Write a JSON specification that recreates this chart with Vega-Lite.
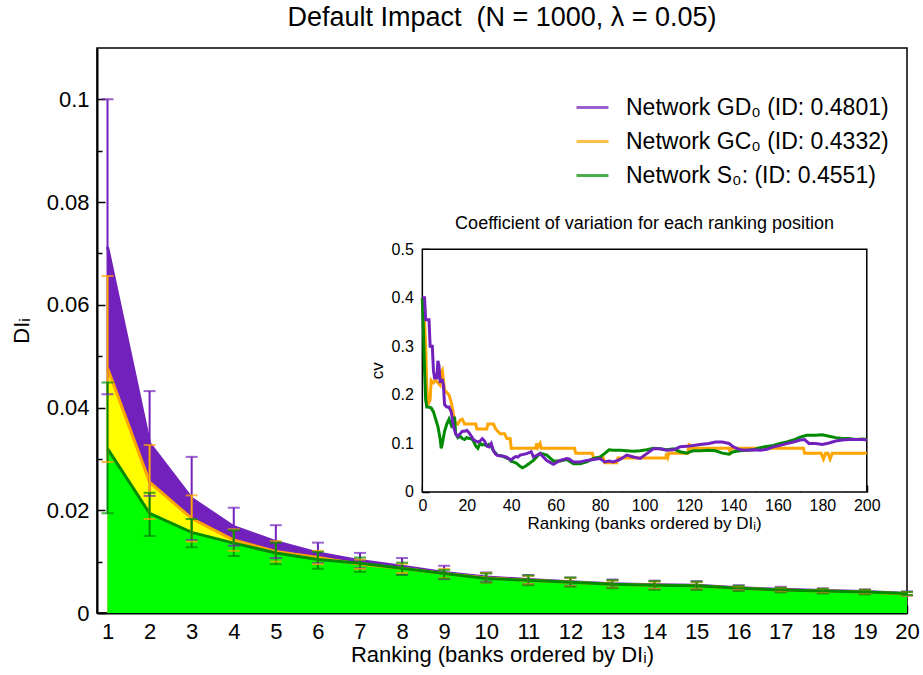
{
  "$schema": "https://vega.github.io/schema/vega-lite/v6.json",
  "background": "white",
  "autosize": "none",
  "width": 810,
  "height": 565,
  "padding": {"left": 97, "top": 48, "right": 16, "bottom": 62},
  "config": {
    "font": "Liberation Sans",
    "view": {"stroke": "black", "strokeWidth": 1.5},
    "axis": {"labelFont": "Liberation Sans", "titleFont": "Liberation Sans", "labelColor": "black", "titleColor": "black", "domainColor": "black", "tickColor": "black", "grid": false, "titleFontWeight": "normal", "labelFlush": false, "labelOverlap": false, "zindex": 1},
    "title": {"font": "Liberation Sans", "fontWeight": "normal", "color": "black"},
    "legend": {"labelFont": "Liberation Sans", "labelColor": "black"}
  },
  "title": {"text": "Default Impact\u00a0\u00a0(N = 1000, λ = 0.05)", "fontSize": 27, "offset": 16},
  "datasets": {
    "main": [
      {"rank": 1, "net": "GD", "mean": 0.0713, "lo": 0.0426, "hi": 0.1},
      {"rank": 2, "net": "GD", "mean": 0.033, "lo": 0.0228, "hi": 0.0432},
      {"rank": 3, "net": "GD", "mean": 0.0223, "lo": 0.0142, "hi": 0.0304},
      {"rank": 4, "net": "GD", "mean": 0.0168, "lo": 0.0131, "hi": 0.0205},
      {"rank": 5, "net": "GD", "mean": 0.0139, "lo": 0.0107, "hi": 0.0171},
      {"rank": 6, "net": "GD", "mean": 0.0117, "lo": 0.0097, "hi": 0.0137},
      {"rank": 7, "net": "GD", "mean": 0.0102, "lo": 0.0087, "hi": 0.0117},
      {"rank": 8, "net": "GD", "mean": 0.0091, "lo": 0.0075, "hi": 0.0107},
      {"rank": 9, "net": "GD", "mean": 0.0079, "lo": 0.0066, "hi": 0.0092},
      {"rank": 10, "net": "GD", "mean": 0.007, "lo": 0.0061, "hi": 0.0079},
      {"rank": 11, "net": "GD", "mean": 0.0065, "lo": 0.0056, "hi": 0.0074},
      {"rank": 12, "net": "GD", "mean": 0.0061, "lo": 0.0053, "hi": 0.0069},
      {"rank": 13, "net": "GD", "mean": 0.0057, "lo": 0.0049, "hi": 0.0065},
      {"rank": 14, "net": "GD", "mean": 0.0055, "lo": 0.0047, "hi": 0.0063},
      {"rank": 15, "net": "GD", "mean": 0.0054, "lo": 0.0046, "hi": 0.0062},
      {"rank": 16, "net": "GD", "mean": 0.0049, "lo": 0.0044, "hi": 0.0054},
      {"rank": 17, "net": "GD", "mean": 0.0046, "lo": 0.0041, "hi": 0.0051},
      {"rank": 18, "net": "GD", "mean": 0.0044, "lo": 0.0039, "hi": 0.0048},
      {"rank": 19, "net": "GD", "mean": 0.0042, "lo": 0.0037, "hi": 0.0046},
      {"rank": 20, "net": "GD", "mean": 0.0038, "lo": 0.0034, "hi": 0.0042},
      {"rank": 1, "net": "GC", "mean": 0.0477, "lo": 0.0294, "hi": 0.0656},
      {"rank": 2, "net": "GC", "mean": 0.0255, "lo": 0.0183, "hi": 0.0327},
      {"rank": 3, "net": "GC", "mean": 0.0184, "lo": 0.0139, "hi": 0.0229},
      {"rank": 4, "net": "GC", "mean": 0.0142, "lo": 0.0121, "hi": 0.0163},
      {"rank": 5, "net": "GC", "mean": 0.012, "lo": 0.01, "hi": 0.014},
      {"rank": 6, "net": "GC", "mean": 0.0108, "lo": 0.0095, "hi": 0.0121},
      {"rank": 7, "net": "GC", "mean": 0.0095, "lo": 0.0086, "hi": 0.0104},
      {"rank": 8, "net": "GC", "mean": 0.0087, "lo": 0.0078, "hi": 0.0096},
      {"rank": 9, "net": "GC", "mean": 0.0077, "lo": 0.0068, "hi": 0.0086},
      {"rank": 10, "net": "GC", "mean": 0.0068, "lo": 0.0059, "hi": 0.0078},
      {"rank": 11, "net": "GC", "mean": 0.0064, "lo": 0.0056, "hi": 0.0072},
      {"rank": 12, "net": "GC", "mean": 0.006, "lo": 0.0052, "hi": 0.0068},
      {"rank": 13, "net": "GC", "mean": 0.0056, "lo": 0.0049, "hi": 0.0063},
      {"rank": 14, "net": "GC", "mean": 0.0054, "lo": 0.0047, "hi": 0.0061},
      {"rank": 15, "net": "GC", "mean": 0.0053, "lo": 0.0046, "hi": 0.006},
      {"rank": 16, "net": "GC", "mean": 0.0048, "lo": 0.0044, "hi": 0.0052},
      {"rank": 17, "net": "GC", "mean": 0.0045, "lo": 0.0041, "hi": 0.0049},
      {"rank": 18, "net": "GC", "mean": 0.0043, "lo": 0.0039, "hi": 0.0047},
      {"rank": 19, "net": "GC", "mean": 0.0041, "lo": 0.0037, "hi": 0.0045},
      {"rank": 20, "net": "GC", "mean": 0.0037, "lo": 0.0034, "hi": 0.0041},
      {"rank": 1, "net": "S", "mean": 0.032, "lo": 0.0194, "hi": 0.0449},
      {"rank": 2, "net": "S", "mean": 0.0194, "lo": 0.015, "hi": 0.0234},
      {"rank": 3, "net": "S", "mean": 0.0157, "lo": 0.0128, "hi": 0.0183},
      {"rank": 4, "net": "S", "mean": 0.0136, "lo": 0.0111, "hi": 0.0161},
      {"rank": 5, "net": "S", "mean": 0.0117, "lo": 0.0095, "hi": 0.0137},
      {"rank": 6, "net": "S", "mean": 0.0104, "lo": 0.0086, "hi": 0.0119},
      {"rank": 7, "net": "S", "mean": 0.0097, "lo": 0.008, "hi": 0.0108},
      {"rank": 8, "net": "S", "mean": 0.0087, "lo": 0.0074, "hi": 0.0098},
      {"rank": 9, "net": "S", "mean": 0.0077, "lo": 0.0067, "hi": 0.0084},
      {"rank": 10, "net": "S", "mean": 0.0067, "lo": 0.0059, "hi": 0.0077},
      {"rank": 11, "net": "S", "mean": 0.0064, "lo": 0.0054, "hi": 0.0073},
      {"rank": 12, "net": "S", "mean": 0.006, "lo": 0.0051, "hi": 0.0069},
      {"rank": 13, "net": "S", "mean": 0.0056, "lo": 0.0048, "hi": 0.0064},
      {"rank": 14, "net": "S", "mean": 0.0054, "lo": 0.0045, "hi": 0.0062},
      {"rank": 15, "net": "S", "mean": 0.0053, "lo": 0.0045, "hi": 0.0061},
      {"rank": 16, "net": "S", "mean": 0.0048, "lo": 0.0043, "hi": 0.0053},
      {"rank": 17, "net": "S", "mean": 0.0045, "lo": 0.004, "hi": 0.0049},
      {"rank": 18, "net": "S", "mean": 0.0043, "lo": 0.0038, "hi": 0.0047},
      {"rank": 19, "net": "S", "mean": 0.0041, "lo": 0.0036, "hi": 0.0045},
      {"rank": 20, "net": "S", "mean": 0.0038, "lo": 0.0035, "hi": 0.0041}
    ],
    "cv": [
      {"r": 0, "net": "GD", "cv": 0.4}, {"r": 1, "net": "GD", "cv": 0.4}, {"r": 1.5, "net": "GD", "cv": 0.355}, {"r": 3, "net": "GD", "cv": 0.355},
      {"r": 3.5, "net": "GD", "cv": 0.3}, {"r": 4.5, "net": "GD", "cv": 0.3}, {"r": 5, "net": "GD", "cv": 0.25}, {"r": 5.5, "net": "GD", "cv": 0.235},
      {"r": 6.5, "net": "GD", "cv": 0.235}, {"r": 7, "net": "GD", "cv": 0.27}, {"r": 7.5, "net": "GD", "cv": 0.26}, {"r": 8, "net": "GD", "cv": 0.228},
      {"r": 9, "net": "GD", "cv": 0.23}, {"r": 9.5, "net": "GD", "cv": 0.22}, {"r": 10, "net": "GD", "cv": 0.18}, {"r": 11, "net": "GD", "cv": 0.175},
      {"r": 12, "net": "GD", "cv": 0.175}, {"r": 13, "net": "GD", "cv": 0.165}, {"r": 14, "net": "GD", "cv": 0.135}, {"r": 15, "net": "GD", "cv": 0.12},
      {"r": 16, "net": "GD", "cv": 0.115}, {"r": 17, "net": "GD", "cv": 0.12}, {"r": 18, "net": "GD", "cv": 0.125}, {"r": 19, "net": "GD", "cv": 0.125},
      {"r": 20, "net": "GD", "cv": 0.127}, {"r": 21, "net": "GD", "cv": 0.122}, {"r": 22, "net": "GD", "cv": 0.115}, {"r": 23, "net": "GD", "cv": 0.108},
      {"r": 24, "net": "GD", "cv": 0.105}, {"r": 25, "net": "GD", "cv": 0.103}, {"r": 26, "net": "GD", "cv": 0.105}, {"r": 27, "net": "GD", "cv": 0.11},
      {"r": 28, "net": "GD", "cv": 0.105}, {"r": 29, "net": "GD", "cv": 0.095}, {"r": 30, "net": "GD", "cv": 0.093}, {"r": 31, "net": "GD", "cv": 0.1},
      {"r": 32, "net": "GD", "cv": 0.085}, {"r": 33, "net": "GD", "cv": 0.078}, {"r": 34, "net": "GD", "cv": 0.075}, {"r": 36, "net": "GD", "cv": 0.074},
      {"r": 38, "net": "GD", "cv": 0.072}, {"r": 39, "net": "GD", "cv": 0.068}, {"r": 40, "net": "GD", "cv": 0.066}, {"r": 41, "net": "GD", "cv": 0.07},
      {"r": 42, "net": "GD", "cv": 0.073}, {"r": 43, "net": "GD", "cv": 0.072}, {"r": 44, "net": "GD", "cv": 0.076}, {"r": 47, "net": "GD", "cv": 0.079},
      {"r": 49, "net": "GD", "cv": 0.083}, {"r": 50, "net": "GD", "cv": 0.072}, {"r": 53, "net": "GD", "cv": 0.079}, {"r": 56, "net": "GD", "cv": 0.065},
      {"r": 59, "net": "GD", "cv": 0.057}, {"r": 62, "net": "GD", "cv": 0.065}, {"r": 65, "net": "GD", "cv": 0.069}, {"r": 66, "net": "GD", "cv": 0.068},
      {"r": 68, "net": "GD", "cv": 0.062}, {"r": 71, "net": "GD", "cv": 0.062}, {"r": 74, "net": "GD", "cv": 0.065}, {"r": 77, "net": "GD", "cv": 0.067},
      {"r": 80, "net": "GD", "cv": 0.069}, {"r": 82, "net": "GD", "cv": 0.062}, {"r": 84, "net": "GD", "cv": 0.064}, {"r": 86, "net": "GD", "cv": 0.062},
      {"r": 89, "net": "GD", "cv": 0.067}, {"r": 92, "net": "GD", "cv": 0.076}, {"r": 95, "net": "GD", "cv": 0.072}, {"r": 98, "net": "GD", "cv": 0.069},
      {"r": 101, "net": "GD", "cv": 0.079}, {"r": 104, "net": "GD", "cv": 0.089}, {"r": 107, "net": "GD", "cv": 0.089}, {"r": 110, "net": "GD", "cv": 0.086},
      {"r": 113, "net": "GD", "cv": 0.087}, {"r": 116, "net": "GD", "cv": 0.093}, {"r": 119, "net": "GD", "cv": 0.094}, {"r": 122, "net": "GD", "cv": 0.096},
      {"r": 125, "net": "GD", "cv": 0.098}, {"r": 129, "net": "GD", "cv": 0.1}, {"r": 132, "net": "GD", "cv": 0.103}, {"r": 135, "net": "GD", "cv": 0.103},
      {"r": 138, "net": "GD", "cv": 0.1}, {"r": 140, "net": "GD", "cv": 0.093}, {"r": 143, "net": "GD", "cv": 0.087}, {"r": 146, "net": "GD", "cv": 0.086},
      {"r": 149, "net": "GD", "cv": 0.087}, {"r": 152, "net": "GD", "cv": 0.086}, {"r": 155, "net": "GD", "cv": 0.088}, {"r": 158, "net": "GD", "cv": 0.093},
      {"r": 161, "net": "GD", "cv": 0.096}, {"r": 164, "net": "GD", "cv": 0.1}, {"r": 167, "net": "GD", "cv": 0.103}, {"r": 170, "net": "GD", "cv": 0.107},
      {"r": 172, "net": "GD", "cv": 0.108}, {"r": 174, "net": "GD", "cv": 0.1}, {"r": 177, "net": "GD", "cv": 0.1}, {"r": 180, "net": "GD", "cv": 0.098},
      {"r": 183, "net": "GD", "cv": 0.101}, {"r": 186, "net": "GD", "cv": 0.105}, {"r": 189, "net": "GD", "cv": 0.107}, {"r": 192, "net": "GD", "cv": 0.108},
      {"r": 195, "net": "GD", "cv": 0.108}, {"r": 198, "net": "GD", "cv": 0.108}, {"r": 200, "net": "GD", "cv": 0.107},
      {"r": 0, "net": "S", "cv": 0.4}, {"r": 0.5, "net": "S", "cv": 0.33}, {"r": 1, "net": "S", "cv": 0.25}, {"r": 1.5, "net": "S", "cv": 0.19},
      {"r": 2, "net": "S", "cv": 0.175}, {"r": 3, "net": "S", "cv": 0.175}, {"r": 4, "net": "S", "cv": 0.173}, {"r": 5, "net": "S", "cv": 0.165},
      {"r": 6, "net": "S", "cv": 0.15}, {"r": 7, "net": "S", "cv": 0.135}, {"r": 8, "net": "S", "cv": 0.11}, {"r": 8.5, "net": "S", "cv": 0.09},
      {"r": 9, "net": "S", "cv": 0.1}, {"r": 10, "net": "S", "cv": 0.125}, {"r": 11, "net": "S", "cv": 0.14}, {"r": 12, "net": "S", "cv": 0.15},
      {"r": 13, "net": "S", "cv": 0.138}, {"r": 14, "net": "S", "cv": 0.15}, {"r": 14.5, "net": "S", "cv": 0.155}, {"r": 15, "net": "S", "cv": 0.12},
      {"r": 16, "net": "S", "cv": 0.112}, {"r": 17, "net": "S", "cv": 0.115}, {"r": 18, "net": "S", "cv": 0.11}, {"r": 19, "net": "S", "cv": 0.108},
      {"r": 20, "net": "S", "cv": 0.112}, {"r": 21, "net": "S", "cv": 0.11}, {"r": 22, "net": "S", "cv": 0.11}, {"r": 23, "net": "S", "cv": 0.105},
      {"r": 24, "net": "S", "cv": 0.095}, {"r": 25, "net": "S", "cv": 0.09}, {"r": 26, "net": "S", "cv": 0.1}, {"r": 27, "net": "S", "cv": 0.097},
      {"r": 28, "net": "S", "cv": 0.098}, {"r": 29, "net": "S", "cv": 0.095}, {"r": 30, "net": "S", "cv": 0.098}, {"r": 31, "net": "S", "cv": 0.094},
      {"r": 32, "net": "S", "cv": 0.085}, {"r": 33, "net": "S", "cv": 0.08}, {"r": 34, "net": "S", "cv": 0.075}, {"r": 35, "net": "S", "cv": 0.075},
      {"r": 36, "net": "S", "cv": 0.074}, {"r": 37, "net": "S", "cv": 0.072}, {"r": 38, "net": "S", "cv": 0.07}, {"r": 39, "net": "S", "cv": 0.068},
      {"r": 40, "net": "S", "cv": 0.063}, {"r": 41, "net": "S", "cv": 0.062}, {"r": 42, "net": "S", "cv": 0.06}, {"r": 43, "net": "S", "cv": 0.057},
      {"r": 44, "net": "S", "cv": 0.053}, {"r": 45, "net": "S", "cv": 0.05}, {"r": 46, "net": "S", "cv": 0.052}, {"r": 47, "net": "S", "cv": 0.055},
      {"r": 50, "net": "S", "cv": 0.065}, {"r": 53, "net": "S", "cv": 0.08}, {"r": 56, "net": "S", "cv": 0.076}, {"r": 59, "net": "S", "cv": 0.064},
      {"r": 62, "net": "S", "cv": 0.064}, {"r": 65, "net": "S", "cv": 0.067}, {"r": 68, "net": "S", "cv": 0.058}, {"r": 71, "net": "S", "cv": 0.058},
      {"r": 74, "net": "S", "cv": 0.062}, {"r": 77, "net": "S", "cv": 0.069}, {"r": 80, "net": "S", "cv": 0.072}, {"r": 82, "net": "S", "cv": 0.079},
      {"r": 84, "net": "S", "cv": 0.087}, {"r": 86, "net": "S", "cv": 0.086}, {"r": 89, "net": "S", "cv": 0.086}, {"r": 92, "net": "S", "cv": 0.085},
      {"r": 95, "net": "S", "cv": 0.084}, {"r": 98, "net": "S", "cv": 0.085}, {"r": 101, "net": "S", "cv": 0.087}, {"r": 104, "net": "S", "cv": 0.09},
      {"r": 107, "net": "S", "cv": 0.089}, {"r": 110, "net": "S", "cv": 0.087}, {"r": 113, "net": "S", "cv": 0.089}, {"r": 116, "net": "S", "cv": 0.083},
      {"r": 119, "net": "S", "cv": 0.08}, {"r": 120.5, "net": "S", "cv": 0.083}, {"r": 122, "net": "S", "cv": 0.085}, {"r": 125, "net": "S", "cv": 0.085},
      {"r": 129, "net": "S", "cv": 0.086}, {"r": 132, "net": "S", "cv": 0.085}, {"r": 135, "net": "S", "cv": 0.08}, {"r": 138, "net": "S", "cv": 0.078},
      {"r": 140, "net": "S", "cv": 0.083}, {"r": 143, "net": "S", "cv": 0.085}, {"r": 146, "net": "S", "cv": 0.086}, {"r": 149, "net": "S", "cv": 0.087},
      {"r": 152, "net": "S", "cv": 0.091}, {"r": 155, "net": "S", "cv": 0.094}, {"r": 158, "net": "S", "cv": 0.096}, {"r": 161, "net": "S", "cv": 0.1},
      {"r": 164, "net": "S", "cv": 0.103}, {"r": 167, "net": "S", "cv": 0.107}, {"r": 170, "net": "S", "cv": 0.113}, {"r": 173, "net": "S", "cv": 0.117},
      {"r": 177, "net": "S", "cv": 0.117}, {"r": 180, "net": "S", "cv": 0.118}, {"r": 183, "net": "S", "cv": 0.115}, {"r": 186, "net": "S", "cv": 0.112},
      {"r": 189, "net": "S", "cv": 0.11}, {"r": 192, "net": "S", "cv": 0.11}, {"r": 195, "net": "S", "cv": 0.108}, {"r": 198, "net": "S", "cv": 0.109},
      {"r": 200, "net": "S", "cv": 0.108},
      {"r": 0, "net": "GC", "cv": 0.4}, {"r": 1, "net": "GC", "cv": 0.35}, {"r": 1.5, "net": "GC", "cv": 0.3}, {"r": 2, "net": "GC", "cv": 0.22},
      {"r": 2.5, "net": "GC", "cv": 0.18}, {"r": 3.5, "net": "GC", "cv": 0.19}, {"r": 4, "net": "GC", "cv": 0.23}, {"r": 5, "net": "GC", "cv": 0.225},
      {"r": 6, "net": "GC", "cv": 0.23}, {"r": 7, "net": "GC", "cv": 0.225}, {"r": 8, "net": "GC", "cv": 0.22}, {"r": 8.5, "net": "GC", "cv": 0.245},
      {"r": 9, "net": "GC", "cv": 0.25}, {"r": 9.5, "net": "GC", "cv": 0.23}, {"r": 10, "net": "GC", "cv": 0.21}, {"r": 11, "net": "GC", "cv": 0.205},
      {"r": 12, "net": "GC", "cv": 0.2}, {"r": 13, "net": "GC", "cv": 0.185}, {"r": 14, "net": "GC", "cv": 0.16}, {"r": 15, "net": "GC", "cv": 0.14},
      {"r": 16, "net": "GC", "cv": 0.14}, {"r": 17, "net": "GC", "cv": 0.148}, {"r": 18, "net": "GC", "cv": 0.15}, {"r": 19, "net": "GC", "cv": 0.14},
      {"r": 24, "net": "GC", "cv": 0.14}, {"r": 24.5, "net": "GC", "cv": 0.13}, {"r": 29, "net": "GC", "cv": 0.13}, {"r": 29.5, "net": "GC", "cv": 0.14},
      {"r": 32, "net": "GC", "cv": 0.14}, {"r": 33, "net": "GC", "cv": 0.13}, {"r": 35, "net": "GC", "cv": 0.12}, {"r": 37, "net": "GC", "cv": 0.12},
      {"r": 38, "net": "GC", "cv": 0.11}, {"r": 39.5, "net": "GC", "cv": 0.11}, {"r": 40, "net": "GC", "cv": 0.09}, {"r": 51, "net": "GC", "cv": 0.09},
      {"r": 51.5, "net": "GC", "cv": 0.1}, {"r": 52, "net": "GC", "cv": 0.092}, {"r": 53, "net": "GC", "cv": 0.1}, {"r": 53.5, "net": "GC", "cv": 0.09},
      {"r": 68.5, "net": "GC", "cv": 0.09}, {"r": 69, "net": "GC", "cv": 0.08}, {"r": 76.5, "net": "GC", "cv": 0.08}, {"r": 77, "net": "GC", "cv": 0.07},
      {"r": 81.5, "net": "GC", "cv": 0.07}, {"r": 82, "net": "GC", "cv": 0.06}, {"r": 87.5, "net": "GC", "cv": 0.06}, {"r": 88, "net": "GC", "cv": 0.07},
      {"r": 109.5, "net": "GC", "cv": 0.07}, {"r": 110, "net": "GC", "cv": 0.08}, {"r": 110.5, "net": "GC", "cv": 0.072}, {"r": 111, "net": "GC", "cv": 0.08},
      {"r": 119.5, "net": "GC", "cv": 0.08}, {"r": 120, "net": "GC", "cv": 0.1}, {"r": 120.5, "net": "GC", "cv": 0.09}, {"r": 138, "net": "GC", "cv": 0.09},
      {"r": 138.5, "net": "GC", "cv": 0.083}, {"r": 139, "net": "GC", "cv": 0.09}, {"r": 171.5, "net": "GC", "cv": 0.09}, {"r": 172, "net": "GC", "cv": 0.08},
      {"r": 179.5, "net": "GC", "cv": 0.08}, {"r": 180.5, "net": "GC", "cv": 0.068}, {"r": 181.5, "net": "GC", "cv": 0.08}, {"r": 182.5, "net": "GC", "cv": 0.08},
      {"r": 183.5, "net": "GC", "cv": 0.068}, {"r": 184.5, "net": "GC", "cv": 0.08}, {"r": 200, "net": "GC", "cv": 0.08}
    ]
  },
  "resolve": {"scale": {"x": "independent", "y": "independent"}, "axis": {"x": "independent", "y": "independent"}},
  "layer": [
    {
      "data": {"name": "main"},
      "resolve": {"axis": {"y": "independent"}},
      "layer": [
        {
          "transform": [{"filter": "datum.net == 'GD'"}],
          "mark": {"type": "area", "color": "#7221BC", "opacity": 1},
          "encoding": {
            "x": {"field": "rank", "type": "quantitative", "scale": {"domain": [0.75, 20], "nice": false, "zero": false},
                  "axis": {"orient": "bottom", "values": [1,2,3,4,5,6,7,8,9,10,11,12,13,14,15,16,17,18,19,20], "title": "Ranking (banks ordered by DIᵢ)", "titleFontSize": 22, "labelFontSize": 22, "tickSize": -8, "tickWidth": 1.5, "domainWidth": 2, "labelPadding": 16, "titlePadding": 2}},
            "y": {"field": "mean", "type": "quantitative", "scale": {"domain": [0, 0.11], "nice": false},
                  "axis": {"orient": "left", "values": [0, 0.02, 0.04, 0.06, 0.08, 0.1], "format": "~g", "title": "DIᵢ", "titleFontSize": 22, "labelFontSize": 22, "tickSize": -8, "tickWidth": 1.5, "domainWidth": 2, "labelPadding": 16, "titlePadding": 13}}
          }
        },
        {
          "transform": [{"filter": "datum.net == 'GC'"}],
          "mark": {"type": "area", "color": "#FFFF00", "opacity": 1},
          "encoding": {"x": {"field": "rank", "type": "quantitative"}, "y": {"field": "mean", "type": "quantitative", "axis": null}}
        },
        {
          "transform": [{"filter": "datum.net == 'S'"}],
          "mark": {"type": "area", "color": "#00FF00", "opacity": 1},
          "encoding": {"x": {"field": "rank", "type": "quantitative"}, "y": {"field": "mean", "type": "quantitative", "axis": null}}
        },
        {
          "mark": {"type": "line", "strokeWidth": 3},
          "encoding": {
            "x": {"field": "rank", "type": "quantitative"},
            "y": {"field": "mean", "type": "quantitative", "axis": null},
            "color": {"field": "net", "type": "nominal", "scale": {"domain": ["GD", "GC", "S"], "range": ["#7221BC", "#FFA500", "#008B00"]},
                      "legend": {"orient": "none", "legendX": 478, "legendY": 42, "title": null, "symbolType": "stroke", "symbolStrokeWidth": 3, "symbolSize": 1024, "labelFontSize": 23, "labelOffset": 16, "rowPadding": 4, "labelLimit": 0,
                                 "labelExpr": "datum.label == 'GD' ? 'Network GD₀ (ID: 0.4801)' : datum.label == 'GC' ? 'Network GC₀ (ID: 0.4332)' : 'Network S₀: (ID: 0.4551)'"}}
          }
        },
        {
          "mark": {"type": "rule", "strokeWidth": 2},
          "encoding": {
            "x": {"field": "rank", "type": "quantitative"},
            "y": {"field": "lo", "type": "quantitative", "axis": null},
            "y2": {"field": "hi"},
            "color": {"field": "net", "type": "nominal"}
          }
        },
        {
          "mark": {"type": "tick", "orient": "horizontal", "size": 12, "thickness": 2},
          "encoding": {
            "x": {"field": "rank", "type": "quantitative"},
            "y": {"field": "lo", "type": "quantitative", "axis": null},
            "color": {"field": "net", "type": "nominal"}
          }
        },
        {
          "mark": {"type": "tick", "orient": "horizontal", "size": 12, "thickness": 2},
          "encoding": {
            "x": {"field": "rank", "type": "quantitative"},
            "y": {"field": "hi", "type": "quantitative", "axis": null},
            "color": {"field": "net", "type": "nominal"}
          }
        },
        {
          "mark": {"type": "point", "opacity": 0},
          "encoding": {
            "x": {"field": "rank", "type": "quantitative"},
            "y": {"field": "mean", "type": "quantitative", "axis": {"orient": "left", "values": [0.01, 0.03, 0.05, 0.07, 0.09], "labels": false, "title": null, "domain": false, "tickSize": -5, "tickWidth": 1.5}}
          }
        }
      ]
    },
    {
      "data": {"name": "cv"},
      "resolve": {"axis": {"x": "independent", "y": "independent"}},
      "layer": [
        {
          "data": {"values": [{}]},
          "mark": {"type": "rect", "fill": "white", "stroke": "black", "strokeWidth": 1.5},
          "encoding": {
            "x": {"datum": 0, "type": "quantitative", "scale": {"domain": [-146.4, 218.1], "nice": false, "zero": false}, "axis": null},
            "x2": {"datum": 200},
            "y": {"datum": 0, "type": "quantitative", "scale": {"domain": [-0.2493, 0.9147], "nice": false, "zero": false}, "axis": null},
            "y2": {"datum": 0.5}
          }
        },
        {
          "transform": [{"filter": "datum.net == 'GC'"}],
          "mark": {"type": "line", "color": "#FFA500", "strokeWidth": 3},
          "encoding": {
            "x": {"field": "r", "type": "quantitative",
                  "axis": {"orient": "bottom", "offset": -121, "values": [0,20,40,60,80,100,120,140,160,180,200], "title": null, "labelFontSize": 16, "tickSize": -7, "tickWidth": 1.5, "domain": false, "labelPadding": 12}},
            "y": {"field": "cv", "type": "quantitative",
                  "axis": {"orient": "left", "offset": -325.3, "values": [0, 0.1, 0.2, 0.3, 0.4, 0.5], "format": "~g", "title": null, "labelFontSize": 16, "tickSize": -7, "tickWidth": 1.5, "domain": false, "labelPadding": 16}}
          }
        },
        {
          "transform": [{"filter": "datum.net == 'S'"}],
          "mark": {"type": "line", "color": "#008B00", "strokeWidth": 3},
          "encoding": {"x": {"field": "r", "type": "quantitative", "axis": null}, "y": {"field": "cv", "type": "quantitative", "axis": null}}
        },
        {
          "transform": [{"filter": "datum.net == 'GD'"}],
          "mark": {"type": "line", "color": "#7221BC", "strokeWidth": 3},
          "encoding": {"x": {"field": "r", "type": "quantitative", "axis": null}, "y": {"field": "cv", "type": "quantitative", "axis": null}}
        },
        {
          "mark": {"type": "point", "opacity": 0},
          "encoding": {
            "x": {"field": "r", "type": "quantitative", "axis": {"orient": "bottom", "offset": -121, "values": [10,30,50,70,90,110,130,150,170,190], "labels": false, "title": null, "domain": false, "tickSize": -4, "tickWidth": 1.5}},
            "y": {"field": "cv", "type": "quantitative", "axis": {"orient": "left", "offset": -325.3, "values": [0.05, 0.15, 0.25, 0.35, 0.45], "labels": false, "title": null, "domain": false, "tickSize": -4, "tickWidth": 1.5}}
          }
        },
        {
          "data": {"values": [{}]},
          "mark": {"type": "text", "fontSize": 18, "align": "center", "baseline": "middle", "color": "black"},
          "encoding": {"x": {"datum": 100, "type": "quantitative", "axis": null}, "y": {"datum": 0.552, "type": "quantitative", "axis": null}, "text": {"value": "Coefficient of variation for each ranking position"}}
        },
        {
          "data": {"values": [{}]},
          "mark": {"type": "text", "fontSize": 17, "align": "center", "baseline": "middle", "color": "black"},
          "encoding": {"x": {"datum": 100, "type": "quantitative", "axis": null}, "y": {"datum": -0.065, "type": "quantitative", "axis": null}, "text": {"value": "Ranking (banks ordered by DIᵢ)"}}
        },
        {
          "data": {"values": [{}]},
          "mark": {"type": "text", "fontSize": 17, "align": "center", "baseline": "middle", "angle": 270, "color": "black"},
          "encoding": {"x": {"datum": -20, "type": "quantitative", "axis": null}, "y": {"datum": 0.25, "type": "quantitative", "axis": null}, "text": {"value": "cv"}}
        }
      ]
    }
  ]
}
